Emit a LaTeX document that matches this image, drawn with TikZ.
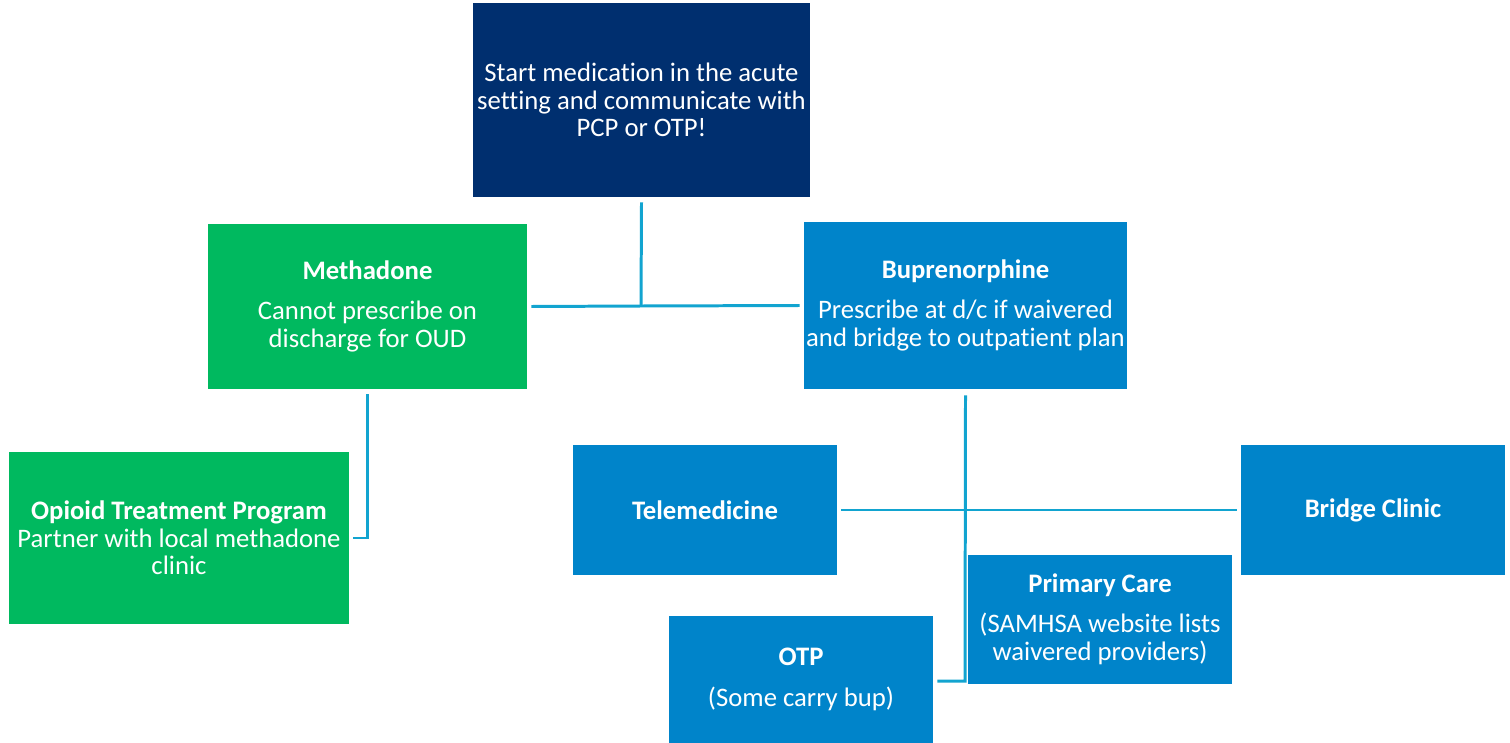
\documentclass[tikz,border=0pt]{standalone}
\usepackage{fontspec}
\setmainfont{Carlito}[Ligatures={NoCommon}]
\usetikzlibrary{positioning}
\definecolor{navy}{RGB}{0,47,111}
\definecolor{medgreen}{RGB}{0,185,95}
\definecolor{medblue}{RGB}{0,132,202}
\definecolor{linkblue}{RGB}{18,164,208}

\begin{document}
\begin{tikzpicture}[x=0.02cm, y=-0.02cm,
        box/.style = {fill=#1, text=white, align=center, inner sep=0pt,
            font=\fontsize{15.2}{15.7}\selectfont},
        link/.style = {draw=linkblue, line width=1.7pt}]
    \useasboundingbox (0,0) rectangle (1510,743);
    \node [box=navy, minimum width=337*0.02cm, minimum height=194*0.02cm] (start) at (641.5,100)
        {Start medication in the acute\\setting and communicate with\\PCP or OTP!};
    \node [box=medgreen, minimum width=319*0.02cm, minimum height=165*0.02cm] (methadone) at (367.5,306.5)
        {\textbf{Methadone}\\[7pt]Cannot prescribe on\\discharge for OUD};
    \node [box=medblue, minimum width=323*0.02cm, minimum height=167*0.02cm] (bupe) at (965.5,305.5)
        {\textbf{Buprenorphine}\\[7pt]Prescribe at d/c if waivered\\and bridge to outpatient plan};
    \node [box=medgreen, minimum width=340*0.02cm, minimum height=172*0.02cm] (otpprog) at (179,538)
        {\textbf{Opioid Treatment Program}\\Partner with local methadone\\clinic};
    \node [box=medblue, minimum width=264*0.02cm, minimum height=130*0.02cm] (tele) at (705,510)
        {\textbf{Telemedicine}};
    \node [box=medblue, minimum width=264*0.02cm, minimum height=130*0.02cm] (bridge) at (1373,510)
        {\textbf{Bridge Clinic}};
    \node [box=medblue, minimum width=264*0.02cm, minimum height=129*0.02cm] (primary) at (1100,619.5)
        {\textbf{Primary Care}\\[7pt](SAMHSA website lists\\waivered providers)};
    \node [box=medblue, minimum width=264*0.02cm, minimum height=127*0.02cm] (otp) at (801,679.5)
        {\textbf{OTP}\\[8pt](Some carry bup)};

    % connectors
    \coordinate (join) at (641,306);
    \draw [link] ([yshift=-5*0.02cm]start.south) -- (join);
    \draw [link] ([xshift=4*0.02cm]methadone.east) -- (join) -- ([xshift=-4*0.02cm]bupe.west);
    \draw [link] ([yshift=-5*0.02cm]methadone.south) |- ([xshift=4*0.02cm]otpprog.east);
    \draw [link] ([xshift=4*0.02cm]tele.east) -- ([xshift=-4*0.02cm]bridge.west);
    \coordinate (elbow) at (965,681);
    \draw [link] ([yshift=-6*0.02cm]bupe.south) -- (elbow) -- ([xshift=4*0.02cm]otp.east |- elbow);
\end{tikzpicture}
\end{document}
